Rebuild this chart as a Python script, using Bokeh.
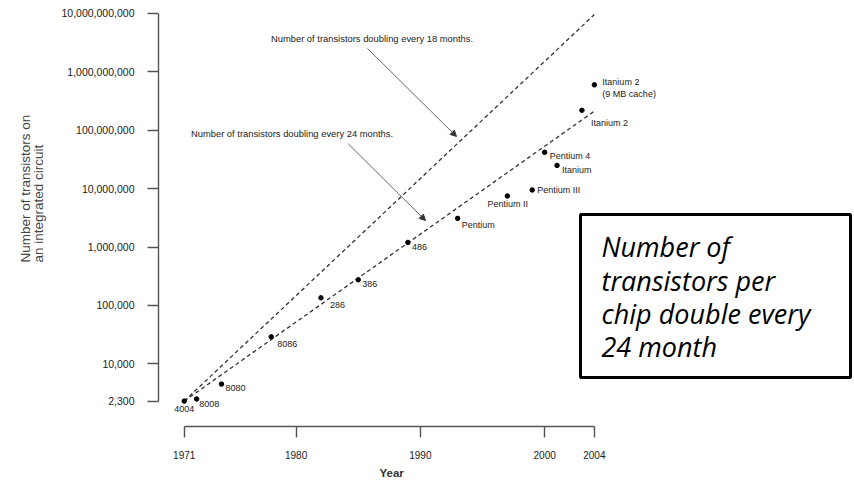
from bokeh.plotting import figure
from bokeh.models import (FixedTicker, NumeralTickFormatter, ColumnDataSource, Label,
                          BoxAnnotation, Arrow, NormalHead, Range1d, Title)
from bokeh.core.properties import value
from bokeh.embed import file_html
from bokeh.resources import INLINE

# ---------------- data ----------------
chips = ["4004", "8008", "8080", "8086", "286", "386", "486", "Pentium",
         "Pentium II", "Pentium III", "Pentium 4", "Itanium", "Itanium 2",
         "Itanium 2\n(9 MB cache)"]
years = [1971, 1972, 1974, 1978, 1982, 1985, 1989, 1993, 1997, 1999, 2000, 2001, 2003, 2004]
transistors = [2300, 2500, 4500, 29000, 135000, 275000, 1200000, 3100000,
               7500000, 9500000, 42000000, 25000000, 220000000, 600000000]

trend_years = [1971, 2004]
trend_18_months = [2300, 9600000000]
trend_24_months = [2300, 213000000]

x_ticks = [1971, 1980, 1990, 2000, 2004]
y_ticks = [2300, 10000, 100000, 1000000, 10000000, 100000000, 1000000000, 10000000000]

x_title = "Year"
y_title = "Number of transistors on\nan integrated circuit"
box_lines = ["Number of", "transistors per", "chip double every", "24 month"]

# ---------------- label styling (pixel offsets) ----------------
label_dx = [0, 2.5, 4, 6, 9, 4, 4, 4, 0.5, 5, 5, 5, 9, 8]
label_dy = [7.5, 5, 4.4, 7, 7, 4.3, 4.3, 7, 7.7, 0, 4, 5, 13, 3.1]
label_align = ["center", "left", "left", "left", "left", "left", "left", "left",
               "center", "left", "left", "left", "left", "left"]

W, H = 852, 484
FL, FB = 158, 426   # frame left / bottom in page pixels


def sx(px):  # page pixel -> screen units (relative to frame left)
    return px - FL


def sy(py):  # page pixel -> screen units (relative to frame bottom, upward)
    return FB - py


p = figure(width=W, height=H,
           x_range=Range1d(1968.93, 2024.77),
           y_range=Range1d(845, 1.669e10),
           y_axis_type="log",
           output_backend="svg", toolbar_location=None,
           min_border_left=FL, min_border_right=0,
           min_border_top=0, min_border_bottom=H - FB)
p.outline_line_color = None
p.grid.visible = False
p.background_fill_color = "white"

axis_color = "#555555"
for ax in (p.xaxis[0], p.yaxis[0]):
    ax.axis_line_color = axis_color
    ax.axis_line_width = 1.4
    ax.major_tick_line_color = axis_color
    ax.major_tick_line_width = 1.4
    ax.major_tick_out = 11
    ax.major_tick_in = 0
    ax.minor_tick_line_color = None
    ax.major_label_text_font = "Liberation Sans"
    ax.major_label_text_color = "#1a1a1a"

p.xaxis.ticker = FixedTicker(ticks=x_ticks)
p.xaxis.bounds = (1971, 2004)
p.xaxis.major_label_text_font_size = "10px"
p.xaxis.major_label_standoff = 13

p.yaxis.ticker = FixedTicker(ticks=y_ticks)
p.yaxis.formatter = NumeralTickFormatter(format="0,0")
p.yaxis.bounds = (2300, 10000000000)
p.yaxis.major_label_text_font_size = "10.5px"
p.yaxis.major_label_standoff = 13

# axis titles (as Titles so they can be shifted along the axis like the reference)
p.add_layout(Title(text=x_title, align="left", offset=221, standoff=7,
                   text_font="Liberation Sans", text_font_size="11.5px",
                   text_font_style="bold", text_color="#333333"), "below")
p.add_layout(Title(text=y_title, align="left", offset=164, standoff=25,
                   text_font="Liberation Sans", text_font_size="13.5px",
                   text_font_style="normal", text_color="#444444",
                   text_line_height=0.85), "left")

# trend lines
p.line(trend_years, trend_18_months, line_dash="4 3", line_color="#333333", line_width=1.3)
p.line(trend_years, trend_24_months, line_dash="4 3", line_color="#333333", line_width=1.3)

# chips
src = ColumnDataSource(dict(x=years, y=transistors, name=chips,
                            dx=label_dx, dy=label_dy, align=label_align))
p.scatter("x", "y", source=src, size=4.5, color="black")
p.text("x", "y", text="name", source=src, x_offset="dx", y_offset="dy",
       text_align="align", text_baseline="middle",
       text_font=value("Liberation Sans"), text_font_size="9px",
       text_color="#222222", text_line_height=1.15)

# annotations
for txt, cx, cy in [("Number of transistors doubling every 18 months.", 371.5, 38),
                    ("Number of transistors doubling every 24 months.", 291.5, 133)]:
    p.add_layout(Label(x=sx(cx), y=sy(cy), x_units="screen", y_units="screen", text=txt,
                       text_align="center", text_baseline="middle",
                       text_font="Liberation Sans", text_font_size="9.4px",
                       text_color="#222222"))

for (x0, y0, x1, y1) in [(367, 48, 456, 136), (347.7, 143.3, 425, 220)]:
    p.add_layout(Arrow(x_start=sx(x0), y_start=sy(y0), x_end=sx(x1), y_end=sy(y1),
                       start_units="screen", end_units="screen",
                       line_color="#666666", line_width=1,
                       end=NormalHead(size=6, fill_color="#333333", line_color="#333333")))

p.add_layout(BoxAnnotation(left=sx(580), right=sx(850), top=sy(214), bottom=sy(377),
                           left_units="screen", right_units="screen",
                           top_units="screen", bottom_units="screen",
                           fill_color="white", fill_alpha=1.0,
                           line_color="black", line_width=3, line_alpha=1.0))
for txt, cy in zip(box_lines, [246, 279.5, 313, 346]):
    p.add_layout(Label(x=sx(601), y=sy(cy), x_units="screen", y_units="screen",
                       text=txt, text_align="left", text_baseline="middle",
                       text_font="Open Sans", text_font_style="italic",
                       text_font_size="27px", text_color="black"))

open("out.html", "w").write(file_html(p, INLINE))
